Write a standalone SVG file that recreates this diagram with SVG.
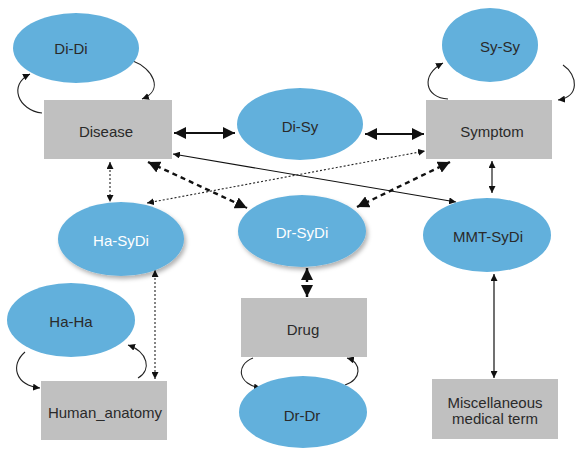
<svg xmlns="http://www.w3.org/2000/svg" width="576" height="449" viewBox="0 0 576 449">
<defs>
<style>
.ell{fill:#62B0DC;}
.box{fill:#C0C0C0;}
.t{font-family:"Liberation Sans",Arial,sans-serif;font-size:15px;fill:#2a2a2a;text-anchor:middle;dominant-baseline:central;}
.w{fill:#ffffff;}
.thick{stroke:#111;stroke-width:2.2;fill:none;}
.dash{stroke:#111;stroke-width:2.4;fill:none;stroke-dasharray:5,4;}
.dot{stroke:#222;stroke-width:1.1;fill:none;stroke-dasharray:2,2;}
.thin{stroke:#111;stroke-width:1.2;fill:none;}
.gray{stroke:#555;stroke-width:1.6;fill:none;}
.loop{stroke:#222;stroke-width:1.1;fill:none;}
</style>
<marker id="big" viewBox="0 0 10 10" refX="10" refY="5" markerWidth="12" markerHeight="12" markerUnits="userSpaceOnUse" orient="auto-start-reverse">
<path d="M0,0 L10,5 L0,10 z" fill="#111"/>
</marker>
<marker id="small" viewBox="0 0 10 10" refX="10" refY="5" markerWidth="7" markerHeight="7" markerUnits="userSpaceOnUse" orient="auto-start-reverse">
<path d="M0,0 L10,5 L0,10 z" fill="#111"/>
</marker>
<filter id="sh" x="-20%" y="-20%" width="150%" height="150%">
<feDropShadow dx="2" dy="3" stdDeviation="2" flood-color="#000" flood-opacity="0.3"/>
</filter>
</defs>

<g id="connectors">
<line class="thick" x1="174" y1="133" x2="235" y2="133" marker-start="url(#big)" marker-end="url(#big)"/>
<line class="thick" x1="365" y1="134" x2="424" y2="134" marker-start="url(#big)" marker-end="url(#big)"/>
<line class="thin" x1="173" y1="154" x2="456" y2="202" marker-start="url(#small)" marker-end="url(#small)"/>
<line class="dash" x1="148" y1="162" x2="247" y2="208" marker-start="url(#big)" marker-end="url(#big)"/>
<line class="dash" x1="450" y1="162" x2="357" y2="207" marker-start="url(#big)" marker-end="url(#big)"/>
<line class="dot" x1="147" y1="203" x2="425" y2="151" marker-start="url(#small)" marker-end="url(#small)"/>
<line class="dot" x1="110" y1="162" x2="110" y2="202" marker-start="url(#small)" marker-end="url(#small)"/>
<line class="gray" x1="492" y1="161" x2="492" y2="193" marker-start="url(#small)" marker-end="url(#small)"/>
<line class="thin" x1="494" y1="274" x2="494" y2="378" marker-start="url(#small)" marker-end="url(#small)"/>
<line class="dot" x1="155" y1="270" x2="155" y2="379" marker-start="url(#small)" marker-end="url(#small)"/>
<line class="dash" x1="307" y1="268" x2="307" y2="297" marker-start="url(#big)" marker-end="url(#big)"/>
<path class="loop" d="M42,113 C18,110 8,85 30,74" marker-end="url(#small)"/>
<path class="loop" d="M133,61 C152,68 165,90 142,99" marker-end="url(#small)"/>
<path class="loop" d="M448,99 C425,98 420,75 443,63" marker-end="url(#small)"/>
<path class="loop" d="M563,65 C578,75 580,97 558,100" marker-end="url(#small)"/>
<path class="loop" d="M25,352 C10,365 15,385 40,388" marker-end="url(#small)"/>
<path class="loop" d="M138,378 C152,370 148,352 128,345" marker-end="url(#small)"/>
<path class="loop" d="M253,358 C235,365 238,385 261,388" marker-end="url(#small)"/>
<path class="loop" d="M345,385 C362,380 362,362 347,358" marker-end="url(#small)"/>
</g>

<g id="di-di"><ellipse class="ell" cx="76" cy="48" rx="63" ry="35"/><text class="t" x="71" y="48">Di-Di</text></g>
<g id="disease"><rect class="box" x="44" y="100" width="128" height="59"/><text class="t" x="106" y="131">Disease</text></g>
<g id="di-sy"><ellipse class="ell" cx="300" cy="124" rx="63" ry="36"/><text class="t" x="300" y="126">Di-Sy</text></g>
<g id="sy-sy"><ellipse class="ell" cx="490" cy="45" rx="48" ry="37"/><text class="t" x="500" y="46">Sy-Sy</text></g>
<g id="symptom"><rect class="box" x="426" y="100" width="126" height="59"/><text class="t" x="492" y="131">Symptom</text></g>
<g id="ha-sydi"><ellipse class="ell" cx="121" cy="239" rx="63" ry="37" filter="url(#sh)"/><text class="t w" x="121" y="240">Ha-SyDi</text></g>
<g id="dr-sydi"><ellipse class="ell" cx="302" cy="231" rx="64" ry="36" filter="url(#sh)"/><text class="t w" x="302" y="232">Dr-SyDi</text></g>
<g id="mmt-sydi"><ellipse class="ell" cx="487" cy="235" rx="64" ry="37"/><text class="t" x="488" y="236">MMT-SyDi</text></g>
<g id="ha-ha"><ellipse class="ell" cx="71" cy="320" rx="64" ry="37"/><text class="t" x="71" y="321">Ha-Ha</text></g>
<g id="human-anatomy"><rect class="box" x="41" y="381" width="126" height="59"/><text class="t" x="105" y="412">Human_anatomy</text></g>
<g id="drug"><rect class="box" x="241" y="298" width="126" height="59"/><text class="t" x="303" y="329">Drug</text></g>
<g id="dr-dr"><ellipse class="ell" cx="303" cy="412" rx="64" ry="36"/><text class="t" x="302" y="415">Dr-Dr</text></g>
<g id="misc"><rect class="box" x="432" y="379" width="126" height="60"/><text class="t" x="495" y="402">Miscellaneous</text><text class="t" x="495" y="418">medical term</text></g>
</svg>
